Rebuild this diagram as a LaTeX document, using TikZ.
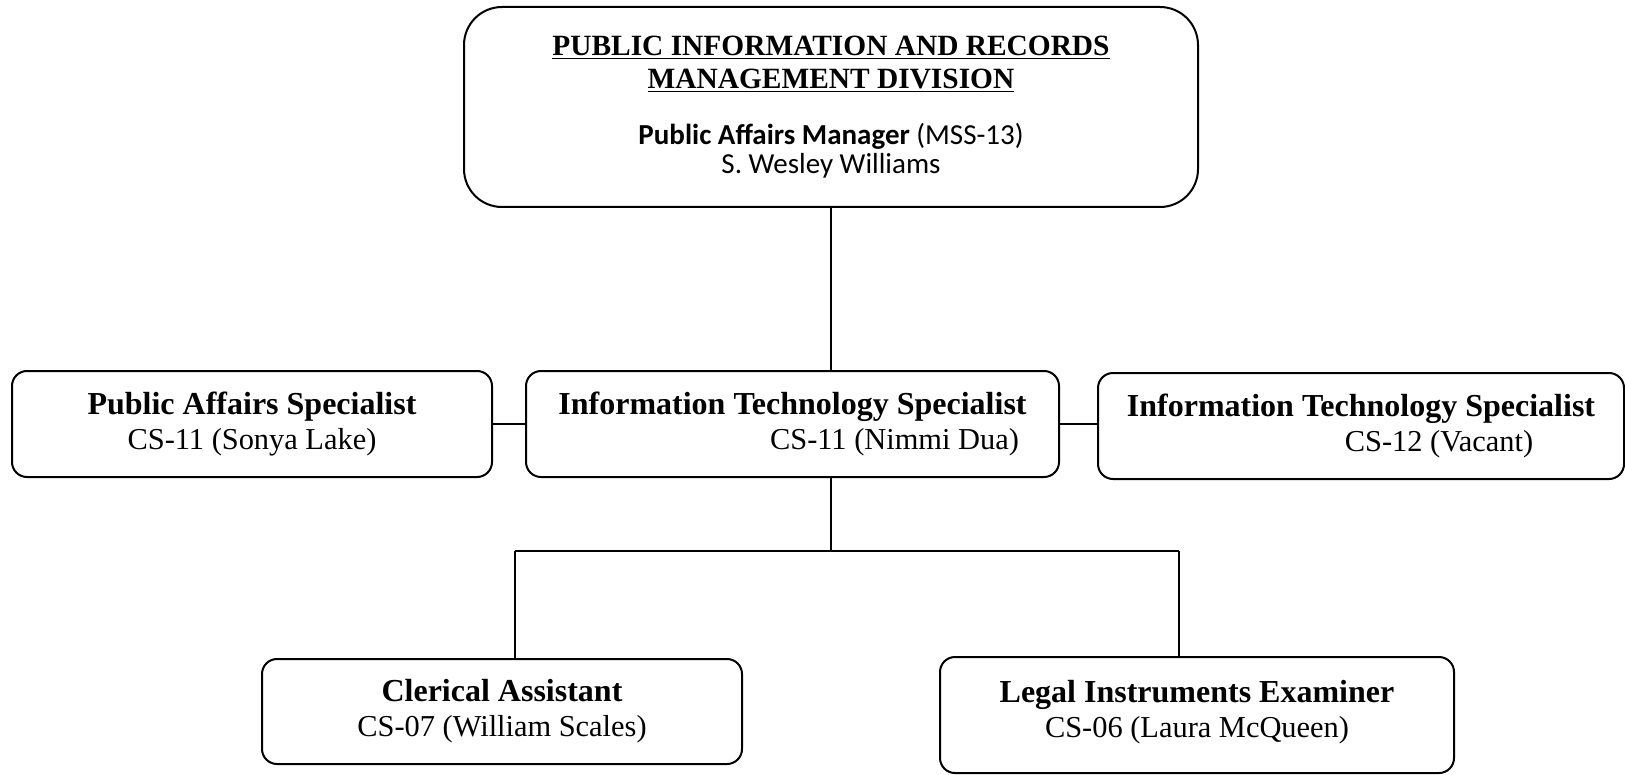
\documentclass[tikz,border=0pt]{standalone}
\usepackage{fontspec}
\setmainfont{Liberation Serif}
\newfontfamily\calibri{Carlito}
\newcommand{\postname}[1]{{\fontsize{16}{17.5}\selectfont\bfseries #1}}

\begin{document}
\begin{tikzpicture}[post/.style={draw,line width=1pt,rounded corners=7.5pt,align=center,inner sep=0pt,font=\fontsize{15.2}{17.5}\selectfont},
	link/.style={line width=0.8pt}]
	\useasboundingbox (0,0) rectangle (812.5pt,-387.5pt);
	\node[post,minimum width=367pt,minimum height=100pt,rounded corners=19pt] (div) at (415.5pt,-53.5pt) {};
	\node[align=center,font=\bfseries\fontsize{14.7}{16.5}\selectfont] (divname) at (415.5pt,-32pt) {\underline{PUBLIC INFORMATION AND RECORDS}\\\underline{MANAGEMENT DIVISION}};
	\node[align=center,font=\calibri\fontsize{14.5}{14.5}\selectfont] (mgr) at (415.5pt,-75.5pt) {\textbf{Public Affairs Manager} (MSS-13)\\S. Wesley Williams};
	\node[post,minimum width=240pt,minimum height=53pt] (pas) at (126pt,-212pt) {\postname{Public Affairs Specialist}\\CS-11 (Sonya Lake)};
	\node[post,minimum width=266.5pt,minimum height=53pt] (itm) at (396.25pt,-212pt) {\postname{Information Technology Specialist}\\\hspace*{102pt}CS-11 (Nimmi Dua)};
	\node[post,minimum width=263pt,minimum height=53pt] (itr) at (680.5pt,-213pt) {\postname{Information Technology Specialist}\\\hspace*{78pt}CS-12 (Vacant)};
	\node[post,minimum width=240pt,minimum height=52.5pt] (cla) at (251pt,-355.75pt) {\postname{Clerical Assistant}\\CS-07 (William Scales)};
	\node[post,minimum width=257pt,minimum height=58pt] (lie) at (598.5pt,-357.5pt) {\postname{Legal Instruments Examiner}\\CS-06 (Laura McQueen)\\[-11.5pt]};
	\coordinate (jn) at (415.5pt,-275.5pt);
	\coordinate (jl) at (257.5pt,-275.5pt);
	\coordinate (jr) at (589.5pt,-275.5pt);
	\draw[link] (div.south) -- (div.south |- itm.north);
	\draw[link] (pas.east) -- (itm.west);
	\draw[link] (itm.east) -- (itm.east -| itr.west);
	\draw[link] (itm.south -| jn) -- (jn);
	\draw[link] (jl) -- (jr);
	\draw[link] (jl) -- (jl |- cla.north);
	\draw[link] (jr) -- (jr |- lie.north);
\end{tikzpicture}
\end{document}
